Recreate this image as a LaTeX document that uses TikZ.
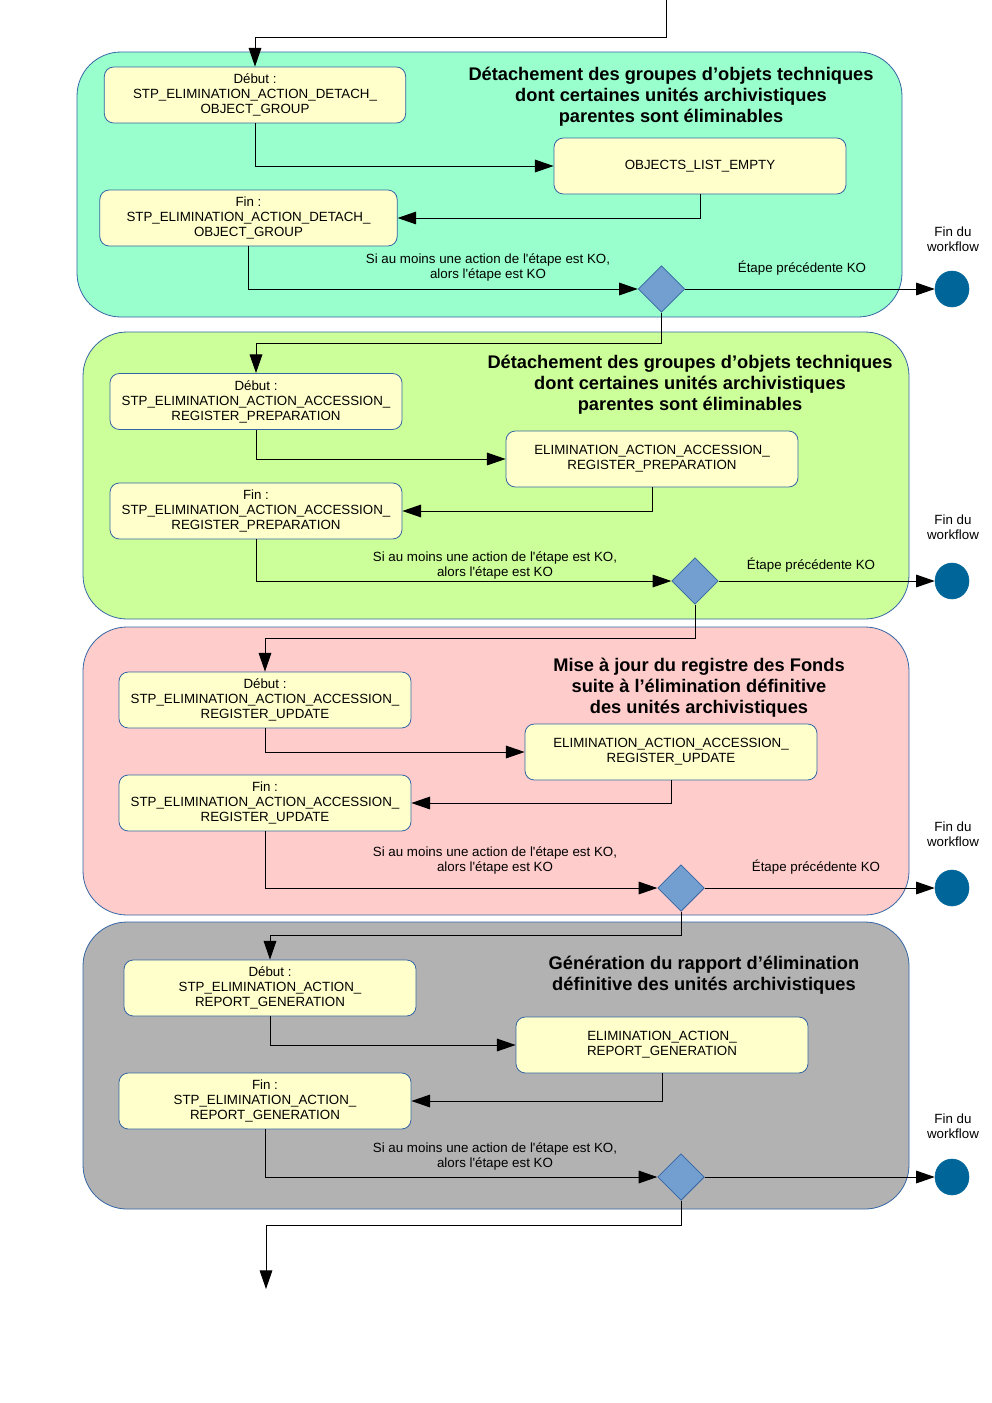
\documentclass[tikz,border=0pt]{standalone}
\usepackage{fontspec}
\setmainfont{Liberation Sans}
\usepackage{tikz}
\usetikzlibrary{arrows.meta,shapes.geometric}

\definecolor{zoneA}{HTML}{99FFCC}
\definecolor{zoneB}{HTML}{CCFF99}
\definecolor{zoneC}{HTML}{FFCCCC}
\definecolor{zoneD}{HTML}{B2B2B2}
\definecolor{stepfill}{HTML}{FFFFCC}
\definecolor{edgeblue}{HTML}{3465A4}
\definecolor{gatefill}{HTML}{729FCF}
\definecolor{endfill}{HTML}{006699}

\begin{document}
\begin{tikzpicture}[x=0.75pt,y=-0.75pt,
                    font=\fontsize{10}{11.25}\selectfont,
                    panel/.style={draw=edgeblue,line width=0.6pt,rounded corners=33pt}]
    \useasboundingbox (0,0) rectangle (992,1403);

    % zones
    \draw[panel,fill=zoneA] (77,52) rectangle (902,317);
    \draw[panel,fill=zoneB] (83,332) rectangle (909,619);
    \draw[panel,fill=zoneC] (83,627) rectangle (909,915);
    \draw[panel,fill=zoneD] (83,922) rectangle (909,1209);

    \begin{scope}[every node/.style={draw=edgeblue,fill=stepfill,line width=0.6pt,rounded corners=7pt,
                  align=center,minimum width=219pt,minimum height=42pt,inner sep=2pt}]
        \node (D1) at (255,95) [minimum width=226pt] {Début :\\STP\_ELIMINATION\_ACTION\_DETACH\_\\OBJECT\_GROUP};
        \node (A1) at (700,166) {OBJECTS\_LIST\_EMPTY};
        \node (F1) at (248.5,218) [minimum width=223pt] {Fin :\\STP\_ELIMINATION\_ACTION\_DETACH\_\\OBJECT\_GROUP};

        \node (D2) at (256,401.5) {Début :\\STP\_ELIMINATION\_ACTION\_ACCESSION\_\\REGISTER\_PREPARATION};
        \node (A2) at (652,459) {ELIMINATION\_ACTION\_ACCESSION\_\\REGISTER\_PREPARATION};
        \node (F2) at (256,511) {Fin :\\STP\_ELIMINATION\_ACTION\_ACCESSION\_\\REGISTER\_PREPARATION};

        \node (D3) at (265,700) {Début :\\STP\_ELIMINATION\_ACTION\_ACCESSION\_\\REGISTER\_UPDATE};
        \node (A3) at (671,752) {ELIMINATION\_ACTION\_ACCESSION\_\\REGISTER\_UPDATE};
        \node (F3) at (265,803) {Fin :\\STP\_ELIMINATION\_ACTION\_ACCESSION\_\\REGISTER\_UPDATE};

        \node (D4) at (270,988) {Début :\\STP\_ELIMINATION\_ACTION\_\\REPORT\_GENERATION};
        \node (A4) at (662,1045) {ELIMINATION\_ACTION\_\\REPORT\_GENERATION};
        \node (F4) at (265,1101) {Fin :\\STP\_ELIMINATION\_ACTION\_\\REPORT\_GENERATION};
    \end{scope}

    \begin{scope}[every node/.style={diamond,draw=edgeblue,fill=gatefill,line width=0.6pt,
                  minimum width=35pt,minimum height=35pt,inner sep=0pt}]
        \node (G1) at (661.5,289) {};
        \node (G2) at (695,581) {};
        \node (G3) at (681,888) {};
        \node (G4) at (681,1177) {};
    \end{scope}

    \begin{scope}[every node/.style={ellipse,draw=endfill,fill=endfill,
                  minimum width=25.5pt,minimum height=27pt,inner sep=0pt}]
        \node (W1) at (952,289) {};
        \node (W2) at (952,581) {};
        \node (W3) at (952,888) {};
        \node (W4) at (952,1177) {};
    \end{scope}

    % titles
    \begin{scope}[every node/.style={align=center,font=\fontsize{13.7}{15.75}\selectfont\bfseries}]
        \node (T1) at (671,97) {Détachement des groupes d’objets techniques\\dont certaines unités archivistiques\\parentes sont éliminables};
        \node (T2) at (690,385) {Détachement des groupes d’objets techniques\\dont certaines unités archivistiques\\parentes sont éliminables};
        \node (T3) at (699,687.5) {Mise à jour du registre des Fonds\\suite à l’élimination définitive\\des unités archivistiques};
        \node (T4) at (704,975) {Génération du rapport d’élimination\\définitive des unités archivistiques};
    \end{scope}

    \begin{scope}[every node/.style={align=center}]
        \node (K1) at (488,267.5) {Si au moins une action de l\textquotesingle étape est KO,\\alors l\textquotesingle étape est KO};
        \node (K2) at (495,565.5) {Si au moins une action de l\textquotesingle étape est KO,\\alors l\textquotesingle étape est KO};
        \node (K3) at (495,860.5) {Si au moins une action de l\textquotesingle étape est KO,\\alors l\textquotesingle étape est KO};
        \node (K4) at (495,1156) {Si au moins une action de l\textquotesingle étape est KO,\\alors l\textquotesingle étape est KO};
        \node (P1) at (802,268) {Étape précédente KO};
        \node (P2) at (811,565) {Étape précédente KO};
        \node (P3) at (816,867) {Étape précédente KO};
        \node (L1) at (953,239.5) {Fin du\\workflow};
        \node (L2) at (953,527) {Fin du\\workflow};
        \node (L3) at (953,834.5) {Fin du\\workflow};
        \node (L4) at (953,1126.5) {Fin du\\workflow};
    \end{scope}

    \coordinate (S) at (666,0);
    \coordinate (T) at (266,1289);

    \begin{scope}[>={Triangle[length=14pt,width=9.5pt]},line width=0.75pt]
        \draw [->] (S) -- ++(0,37) -| (D1.north);
        \draw [->] (D1.south) |- (A1.west);
        \draw [->] (A1.south) |- (F1.east);
        \draw [->] (F1.south) |- (G1.west);
        \draw [->] (G1.east) -- (W1.west);
        \draw [->] (G1.south) -- ++(0,31) -| (D2.north);

        \draw [->] (D2.south) |- (A2.west);
        \draw [->] (A2.south) |- (F2.east);
        \draw [->] (F2.south) |- (G2.west);
        \draw [->] (G2.east) -- (W2.west);
        \draw [->] (G2.south) -- ++(0,34) -| (D3.north);

        \draw [->] (D3.south) |- (A3.west);
        \draw [->] (A3.south) |- (F3.east);
        \draw [->] (F3.south) |- (G3.west);
        \draw [->] (G3.east) -- (W3.west);
        \draw [->] (G3.south) -- ++(0,24) -| (D4.north);

        \draw [->] (D4.south) |- (A4.west);
        \draw [->] (A4.south) |- (F4.east);
        \draw [->] (F4.south) |- (G4.west);
        \draw [->] (G4.east) -- (W4.west);
        \draw [->] (G4.south) -- ++(0,25) -| (T);
    \end{scope}
\end{tikzpicture}
\end{document}
